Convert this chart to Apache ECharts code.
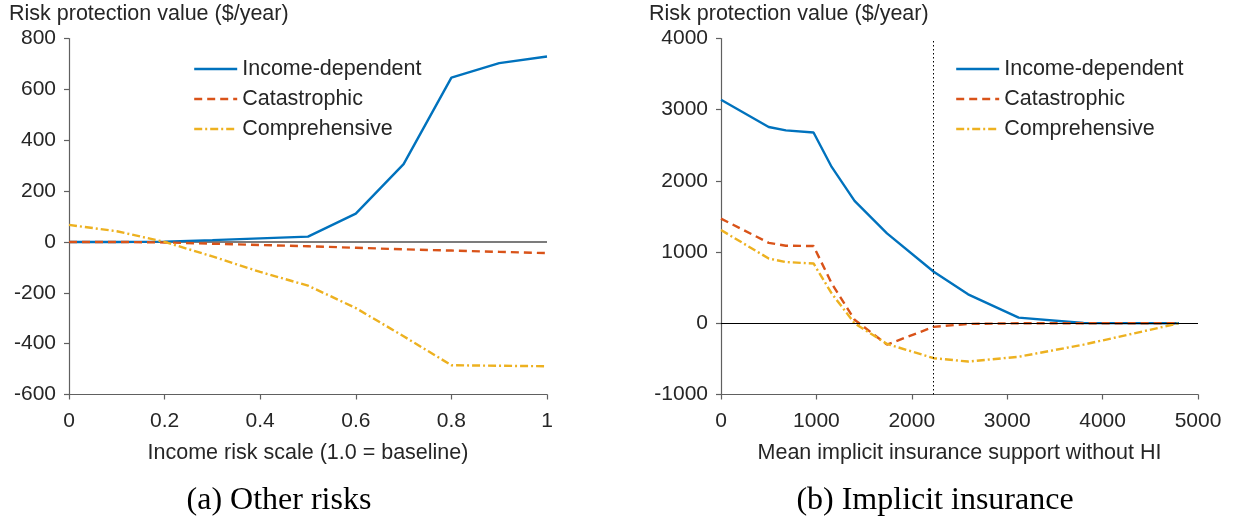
<!DOCTYPE html>
<html>
<head>
<meta charset="utf-8">
<script src="https://cdn.jsdelivr.net/npm/echarts@6/dist/echarts.min.js"></script>
<style>
html,body{margin:0;padding:0;background:#fff;}
#chart{width:1233px;height:523px;}
</style>
</head>
<body>
<div id="chart"></div>
<script>
// ---- Data ----
const seriesNames = ['Income-dependent', 'Catastrophic', 'Comprehensive'];

// Panel (a): Other risks
const riskScale = [0, 0.1, 0.2, 0.3, 0.4, 0.5, 0.6, 0.7, 0.8, 0.9, 1.0];
const aIncomeDep = [0, 0, 1, 7, 14, 21, 111, 306, 646, 703, 729];
const aCatastrophic = [0, 0, -2, -7, -12, -17, -23, -29, -34, -39, -44];
const aComprehensive = [67, 42, 0, -57, -118, -172, -260, -371, -485, -487, -489];

// Panel (b): Implicit insurance
const implicitSupport = [0, 500, 680, 970, 1160, 1400, 1740, 2230, 2590, 3120, 3800, 4800];
const bIncomeDep = [3140, 2757, 2710, 2680, 2196, 1720, 1262, 724, 407, 79, 5, 0];
const bCatastrophic = [1470, 1130, 1090, 1085, 560, 50, -300, -50, -8, 0, 0, 0];
const bComprehensive = [1310, 910, 860, 840, 420, 0, -290, -490, -537, -470, -300, 0];
const bBaselineSupport = 2230;

// Axis ticks
const aYTicks = { min: -600, max: 800, interval: 200 };
const aXTicks = { min: 0, max: 1, interval: 0.2 };
const bYTicks = { min: -1000, max: 4000, interval: 1000 };
const bXTicks = { min: 0, max: 5000, interval: 1000 };

const yTitle = 'Risk protection value ($/year)';
const aXName = 'Income risk scale (1.0 = baseline)';
const bXName = 'Mean implicit insurance support without HI';
const aCaption = '(a) Other risks';
const bCaption = '(b) Implicit insurance';

// ---- Styles ----
const colors = ['#0072BD', '#D95319', '#EDB120'];
const lineTypes = ['solid', [8, 5], [8, 3, 2, 3]];
const FONT = 'Liberation Sans';
const TXT = '#262626';
const AX = '#606060';
const LW = 2.4;
const plain = v => String(+(+v).toFixed(1));

function pairs(xs, ys) { return xs.map((x, i) => [x, ys[i]]); }

function mkSeries(name, idx, xs, ys, axisIndex) {
  return {
    name: name, type: 'line', xAxisIndex: axisIndex, yAxisIndex: axisIndex,
    data: pairs(xs, ys), symbol: 'none', showSymbol: false,
    lineStyle: { color: colors[idx], width: LW, type: lineTypes[idx] },
    itemStyle: { color: colors[idx] },
    z: 3
  };
}

function xAxisCfg(gi, t, name) {
  return {
    type: 'value', gridIndex: gi, min: t.min, max: t.max, interval: t.interval,
    name: name, nameLocation: 'middle', nameGap: 48,
    nameTextStyle: { fontFamily: FONT, fontSize: 21.5, color: TXT },
    axisLine: { show: true, onZero: false, lineStyle: { color: AX, width: 1.2 } },
    axisTick: { show: true, inside: false, length: 5, lineStyle: { color: AX, width: 1.2 } },
    axisLabel: { fontFamily: FONT, fontSize: 21, color: TXT, margin: 16, formatter: plain },
    splitLine: { show: false }
  };
}
function yAxisCfg(gi, t) {
  return {
    type: 'value', gridIndex: gi, min: t.min, max: t.max, interval: t.interval,
    axisLine: { show: true, onZero: false, lineStyle: { color: AX, width: 1.2 } },
    axisTick: { show: true, inside: false, length: 5, lineStyle: { color: AX, width: 1.2 } },
    axisLabel: { fontFamily: FONT, fontSize: 21, color: TXT, margin: 13, formatter: plain },
    splitLine: { show: false }
  };
}

const series = [
  mkSeries(seriesNames[0], 0, riskScale, aIncomeDep, 0),
  mkSeries(seriesNames[1], 1, riskScale, aCatastrophic, 0),
  mkSeries(seriesNames[2], 2, riskScale, aComprehensive, 0),
  mkSeries(seriesNames[0], 0, implicitSupport, bIncomeDep, 1),
  mkSeries(seriesNames[1], 1, implicitSupport, bCatastrophic, 1),
  mkSeries(seriesNames[2], 2, implicitSupport, bComprehensive, 1)
];
series[0].markLine = {
  silent: true, symbol: 'none', label: { show: false }, animation: false,
  lineStyle: { color: '#505050', width: 1.5, type: 'solid' },
  data: [{ yAxis: 0 }], z: 2
};
series[3].markLine = {
  silent: true, symbol: 'none', label: { show: false }, animation: false,
  lineStyle: { color: '#000', width: 1, type: 'solid' },
  data: [{ yAxis: 0 }, { xAxis: bBaselineSupport, lineStyle: { color: '#000', width: 1, type: [1.5, 2.5] } }]
};

const legendText = { fontFamily: FONT, fontSize: 21.5, color: TXT };
const legendCommon = {
  data: seriesNames, orient: 'vertical', top: 58, padding: 0,
  itemWidth: 43, itemHeight: 14, itemGap: 8, textStyle: legendText, selectedMode: false,
  itemStyle: { opacity: 0 },
  lineStyle: { width: LW }
};

const option = {
  animation: false,
  backgroundColor: '#fff',
  title: [
    { text: yTitle, left: 9, top: 3, textStyle: { fontFamily: FONT, fontSize: 21.5, fontWeight: 'normal', color: TXT }, padding: 0 },
    { text: yTitle, left: 649, top: 3, textStyle: { fontFamily: FONT, fontSize: 21.5, fontWeight: 'normal', color: TXT }, padding: 0 },
    { text: aCaption, left: 279, top: 485, textAlign: 'center', textStyle: { fontFamily: 'Liberation Serif', fontSize: 32, fontWeight: 'normal', color: '#000' }, padding: 0 },
    { text: bCaption, left: 935, top: 485, textAlign: 'center', textStyle: { fontFamily: 'Liberation Serif', fontSize: 32, fontWeight: 'normal', color: '#000' }, padding: 0 }
  ],
  legend: [
    Object.assign({ left: 193 }, legendCommon),
    Object.assign({ left: 955 }, legendCommon)
  ],
  grid: [
    { left: 69, top: 38.5, width: 478, height: 356, containLabel: false },
    { left: 721, top: 38.5, width: 477, height: 356, containLabel: false }
  ],
  xAxis: [xAxisCfg(0, aXTicks, aXName), xAxisCfg(1, bXTicks, bXName)],
  yAxis: [yAxisCfg(0, aYTicks), yAxisCfg(1, bYTicks)],
  series: series
};

const chart = echarts.init(document.getElementById('chart'), null, { renderer: 'canvas' });
chart.setOption(option);
</script>
</body>
</html>
